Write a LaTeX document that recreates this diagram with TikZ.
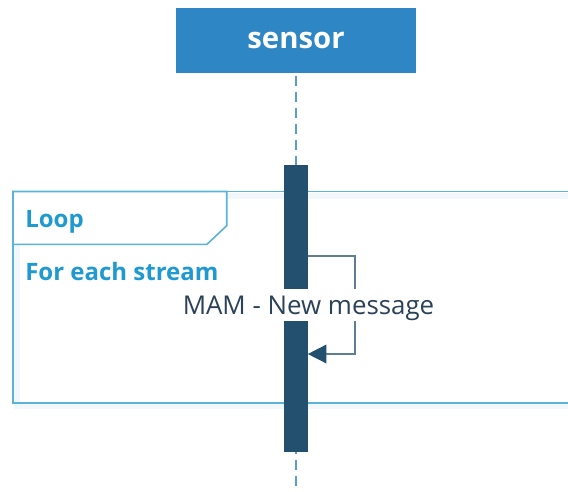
\documentclass[tikz,border=0pt]{standalone}
\usepackage{fontspec}
\setmainfont{Open Sans}
\usepackage{tikz}
\usetikzlibrary{arrows.meta}
\definecolor{headblue}{RGB}{46,134,197}
\definecolor{lifeblue}{RGB}{91,155,213}
\definecolor{barblue}{RGB}{34,80,110}
\definecolor{frameblue}{RGB}{91,179,218}
\definecolor{loopblue}{RGB}{31,154,208}
\definecolor{msggray}{RGB}{92,127,150}
\definecolor{msgtext}{RGB}{43,66,89}
\definecolor{shadeblue}{RGB}{241,247,250}
\tikzset{
  lifehead/.style = {rectangle, fill=headblue, text=white, inner sep=0pt,
    minimum width=180pt, minimum height=48.75pt,
    font=\fontsize{22}{26}\selectfont\bfseries},% kopf der lebenslinie
  lifeline/.style = {lifeblue, line width=1.4pt, dash pattern=on 7.2pt off 4.8pt},% gestrichelt
  actbar/.style = {rectangle, fill=barblue, inner sep=0pt,
    minimum width=17.6pt, minimum height=215pt},% aktivierung
  loopframe/.style = {frameblue, line width=1.2pt},% rahmen
  loopshade/.style = {shadeblue, line width=4pt},% schatten
  looptext/.style = {anchor=base west, inner sep=0pt, text=loopblue,
    font=\fontsize{18}{22}\selectfont\bfseries},% titel
  selfmsg/.style = {msggray, line width=1.1pt,
    -{Triangle[length=14pt,width=14pt,fill=barblue,color=barblue]}},% nachricht
  msglabel/.style = {anchor=base, fill=white, inner sep=0pt, text=msgtext,
    text height=18.75pt, text depth=5.25pt,
    font=\fontsize{19.4}{23}\selectfont}% beschriftung
}
\begin{document}
\begin{tikzpicture}[x=0.75pt,y=-0.75pt]
\clip (0,0) rectangle (568,492);
\fill[white] (0,0) rectangle (568,492);

% loop frame
\draw[loopshade] (17,196) rectangle (600,406);
\draw[loopframe] (13,191.5) rectangle (600,403);

% lifeline
\node [lifehead] (head) at (296,40.5) {sensor};
\coordinate (lifeend) at (295.7,492);
\draw[lifeline] ([yshift=-2.25pt]head.south -| lifeend) -- (lifeend);

\node [actbar] (bar) at (295.8,308.7) {};

% self message
\coordinate (out) at (bar.east |- 0,256);
\coordinate (back) at (bar.east |- 0,354);
\draw[selfmsg] (out) -- (355,256) -- (355,354) -- (back);
\node [msglabel] (msg) at (308.5,314) {MAM - New message};

% loop label
\draw[loopframe, fill=white] (13,191.5) -- (226.7,191.5) -- (226.7,225.7)
  -- (207,244.3) -- (13,244.3) -- cycle;
\node [looptext] (loop) at (25,227) {Loop};
\node [looptext] (cond) at (25,280) {For each stream};
\end{tikzpicture}
\end{document}
